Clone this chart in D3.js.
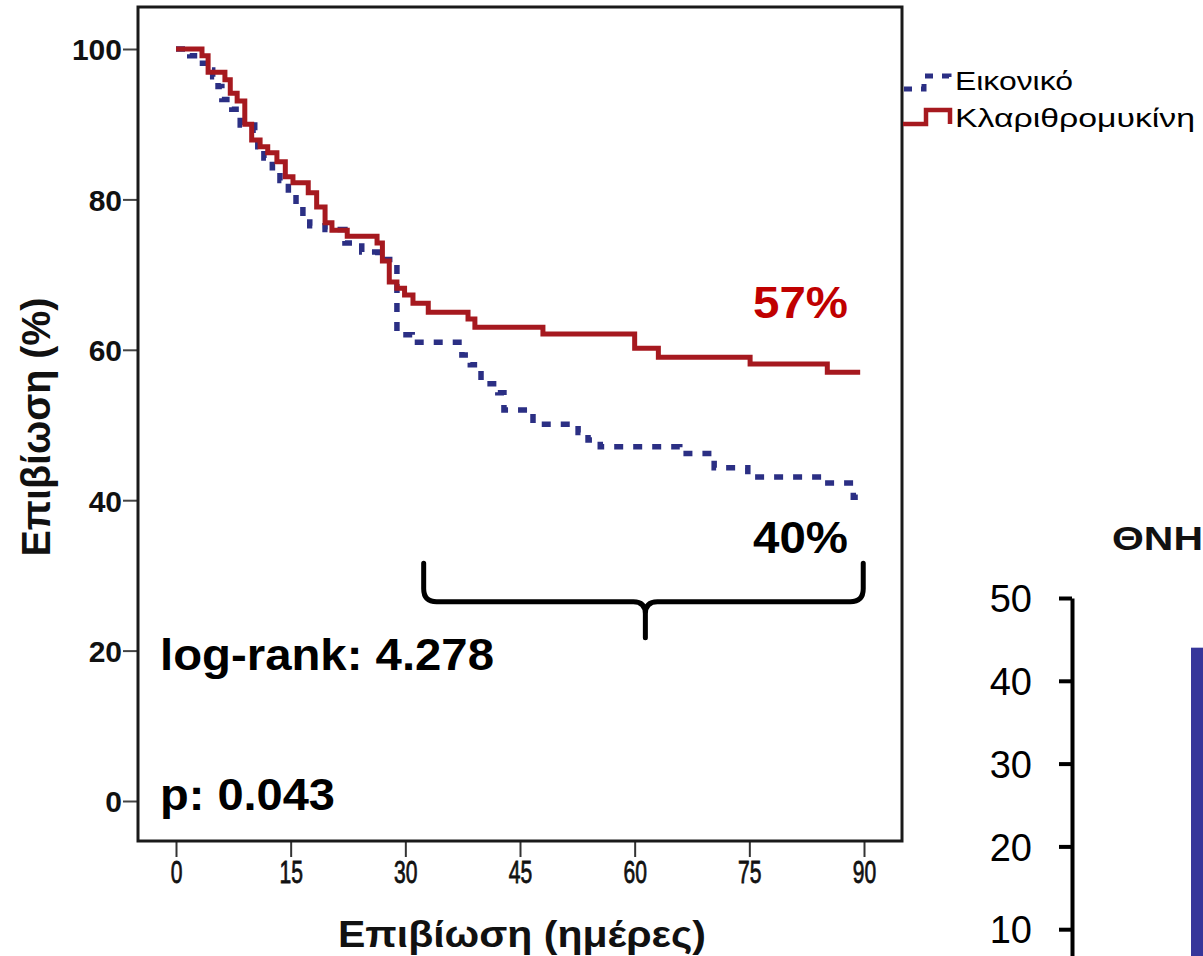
<!DOCTYPE html>
<html>
<head>
<meta charset="utf-8">
<script src="https://cdn.jsdelivr.net/npm/d3@7"></script>
<style>
  html, body { margin: 0; padding: 0; background: #fff; }
  svg { display: block; font-family: Arial, "Liberation Sans", sans-serif; }
</style>
</head>
<body>
<svg id="chart" width="1203" height="956"></svg>
<script>
// Kaplan–Meier survival, placebo vs clarithromycin (days 0–90)
const placeboDays = [0, 1.8, 3.1, 4.4, 4.8, 5.5, 6.0, 7.3, 8.4, 10.3, 10.7, 11.5, 12.6, 13.6, 14.7, 15.7, 16.6, 17.5, 19.5, 22.1, 24.3, 26.4, 28.9, 30.9, 37.4, 38.5, 39.9, 42.1, 42.9, 46.7, 52.6, 53.9, 55.5, 65.9, 70.4, 74.8, 84.5, 88.6, 89.5];
const placeboSurv = [100, 99.1, 98.1, 97.2, 96.3, 95.0, 93.3, 92.0, 89.9, 89.2, 87.0, 85.5, 84.2, 82.5, 80.6, 79.0, 77.5, 76.5, 76.0, 74.2, 73.0, 72.0, 62.0, 61.0, 59.3, 58.0, 55.5, 54.3, 52.0, 50.1, 49.0, 48.0, 47.1, 46.2, 44.3, 43.1, 42.3, 40.4, 40.4];

const clariDays = [0, 3.4, 4.2, 6.4, 7.1, 8.0, 9.0, 9.9, 11.0, 12.0, 13.2, 14.3, 15.3, 17.3, 18.4, 19.5, 20.4, 22.4, 26.3, 27.0, 27.9, 28.9, 29.9, 31.0, 33.0, 38.2, 39.1, 48.0, 60.0, 63.1, 75.1, 85.2, 89.5];
const clariSurv = [100, 99.1, 96.9, 95.9, 94.1, 93.1, 90.0, 87.9, 87.0, 86.2, 85.0, 83.0, 82.2, 80.9, 79.0, 76.9, 75.9, 75.1, 74.2, 71.8, 69.0, 68.2, 67.3, 66.2, 65.0, 64.1, 63.0, 62.1, 60.2, 59.0, 58.1, 57.0, 57.0];

const seriesNames = ["Εικονικό", "Κλαριθρομυκίνη"];
const xTicks = [0, 15, 30, 45, 60, 75, 90];
const yTicks = [0, 20, 40, 60, 80, 100];

// Mortality bar panel (partly visible on the right)
const barCategories = ["Εικονικό"];
const barValues = [44];
const barTicks = [10, 20, 30, 40, 50];

const RED = "#a6191f";
const BLUE = "#2b2f84";

const svg = d3.select("#chart");
svg.append("rect").attr("width", 1203).attr("height", 956).attr("fill", "#fff");

const x = d3.scaleLinear().domain([0, 90]).range([176, 864]);
const y = d3.scaleLinear().domain([0, 100]).range([801, 49]);

const box = { left: 138, top: 7, right: 902, bottom: 841 };

function label(g, o) {
  const t = g.append("text")
    .attr("x", o.x).attr("y", o.y)
    .attr("font-size", o.size)
    .attr("font-weight", o.weight || "normal")
    .attr("fill", o.fill || "#000")
    .attr("text-anchor", o.anchor || "start")
    .text(o.text);
  if (o.len) t.attr("textLength", o.len).attr("lengthAdjust", "spacingAndGlyphs");
  if (o.transform) t.attr("transform", o.transform);
  return t;
}

// Y axis
const yAxis = svg.append("g")
  .attr("transform", `translate(${box.left},0)`)
  .call(d3.axisLeft(y).tickValues(yTicks).tickSize(15).tickSizeOuter(0));
yAxis.select(".domain").remove();
yAxis.selectAll(".tick line").attr("stroke", "#444").attr("stroke-width", 2);
yAxis.selectAll(".tick text")
  .attr("x", -16).attr("dy", "0.36em")
  .attr("font-size", 30).attr("font-weight", "bold")
  .attr("font-family", "Arial, 'Liberation Sans', sans-serif")
  .attr("fill", "#111");

// X axis
const xAxis = svg.append("g")
  .attr("transform", `translate(0,${box.bottom})`)
  .call(d3.axisBottom(x).tickValues(xTicks).tickSize(16).tickSizeOuter(0));
xAxis.select(".domain").remove();
xAxis.selectAll(".tick line").attr("stroke", "#333").attr("stroke-width", 2);
xAxis.selectAll(".tick text")
  .attr("y", 42).attr("dy", 0)
  .attr("transform", "scale(0.68,1)")
  .attr("font-size", 31)
  .attr("font-family", "Arial, 'Liberation Sans', sans-serif")
  .attr("fill", "#111")
  .attr("stroke", "#111").attr("stroke-width", 0.8);

// Survival curves
const step = d3.line().x(d => x(d[0])).y(d => y(d[1])).curve(d3.curveStepAfter);
const placebo = placeboDays.map((d, i) => [d, placeboSurv[i]]);
const clari = clariDays.map((d, i) => [d, clariSurv[i]]);

svg.append("path").datum(placebo)
  .attr("d", step).attr("fill", "none")
  .attr("stroke", BLUE).attr("stroke-width", 5.5)
  .attr("stroke-dasharray", "9,10");
svg.append("path").datum(clari)
  .attr("d", step).attr("fill", "none")
  .attr("stroke", RED).attr("stroke-width", 5);

// Frame
svg.append("rect")
  .attr("x", box.left).attr("y", box.top)
  .attr("width", box.right - box.left).attr("height", box.bottom - box.top)
  .attr("fill", "none").attr("stroke", "#1a1a1a").attr("stroke-width", 3);

// Axis titles
label(svg, { x: 522, y: 947, text: "Επιβίωση (ημέρες)", size: 37, weight: "bold", anchor: "middle", len: 368, fill: "#111" });
label(svg, { x: 0, y: 0, text: "Επιβίωση (%)", size: 40, weight: "bold", anchor: "middle", len: 259, fill: "#111",
  transform: "translate(50,427) rotate(-90)" });

// Legend
const lg = svg.append("g");
lg.append("path")
  .attr("d", "M904,89 H924 V76 H949 V84")
  .attr("fill", "none").attr("stroke", BLUE).attr("stroke-width", 5)
  .attr("stroke-dasharray", "8,9");
lg.append("path")
  .attr("d", "M903,124 H926 V110 H950 V124")
  .attr("fill", "none").attr("stroke", RED).attr("stroke-width", 4.5);
label(lg, { x: 955, y: 90, text: seriesNames[0], size: 26, len: 118 });
label(lg, { x: 955, y: 127, text: seriesNames[1], size: 26, len: 240 });

// End-of-follow-up annotations
const lastClari = clariSurv[clariSurv.length - 1];
const lastPlacebo = placeboSurv[placeboSurv.length - 1];
label(svg, { x: 848, y: 318, text: Math.round(lastClari) + "%", size: 44, weight: "bold", anchor: "end", fill: "#c00000", len: 95 });
label(svg, { x: 848, y: 553, text: Math.round(lastPlacebo) + "%", size: 44, weight: "bold", anchor: "end", len: 95 });

// Brace spanning days 32–90
const xs = x(32.4), xe = x(89.9), xm = x(61.4);
const yt = y(31.6), yh = y(26.5), yb = y(21.7);
const brace = `M${xs},${yt} L${xs},${yh - 13} Q${xs},${yh} ${xs + 13},${yh} L${xm - 12},${yh} Q${xm},${yh} ${xm},${yh + 12} L${xm},${yb}` +
  ` M${xe},${yt} L${xe},${yh - 13} Q${xe},${yh} ${xe - 13},${yh} L${xm + 12},${yh} Q${xm},${yh} ${xm},${yh + 12}`;
svg.append("path").attr("d", brace)
  .attr("fill", "none").attr("stroke", "#000").attr("stroke-width", 5)
  .attr("stroke-linecap", "round").attr("stroke-linejoin", "round");

// Test statistics
label(svg, { x: 160, y: 670, text: "log-rank: 4.278", size: 44, weight: "bold", len: 334 });
label(svg, { x: 160, y: 810, text: "p: 0.043", size: 44, weight: "bold", len: 175 });

// Mortality bar panel
const yR = d3.scaleLinear().domain([0, 50]).range([1012, 598]);
const xR = d3.scaleBand().domain(barCategories).range([1191, 1291]).padding(0);
label(svg, { x: 1112, y: 550, text: "ΘΝΗ", size: 34, weight: "bold", len: 91, fill: "#111" });
svg.append("g").selectAll("rect").data(barValues).join("rect")
  .attr("x", (d, i) => xR(barCategories[i]))
  .attr("width", xR.bandwidth())
  .attr("y", d => yR(d))
  .attr("height", d => yR(0) - yR(d))
  .attr("fill", "#36369a");
const rAxis = svg.append("g")
  .attr("transform", "translate(1072,0)")
  .call(d3.axisLeft(yR).tickValues(barTicks).tickSize(13).tickSizeOuter(0));
rAxis.select(".domain").attr("stroke", "#000").attr("stroke-width", 4);
rAxis.selectAll(".tick line").attr("stroke", "#000").attr("stroke-width", 4);
rAxis.selectAll(".tick text")
  .attr("x", -40).attr("dy", "0.36em")
  .attr("font-size", 38)
  .attr("font-family", "Arial, 'Liberation Sans', sans-serif")
  .attr("fill", "#000");
</script>
</body>
</html>
